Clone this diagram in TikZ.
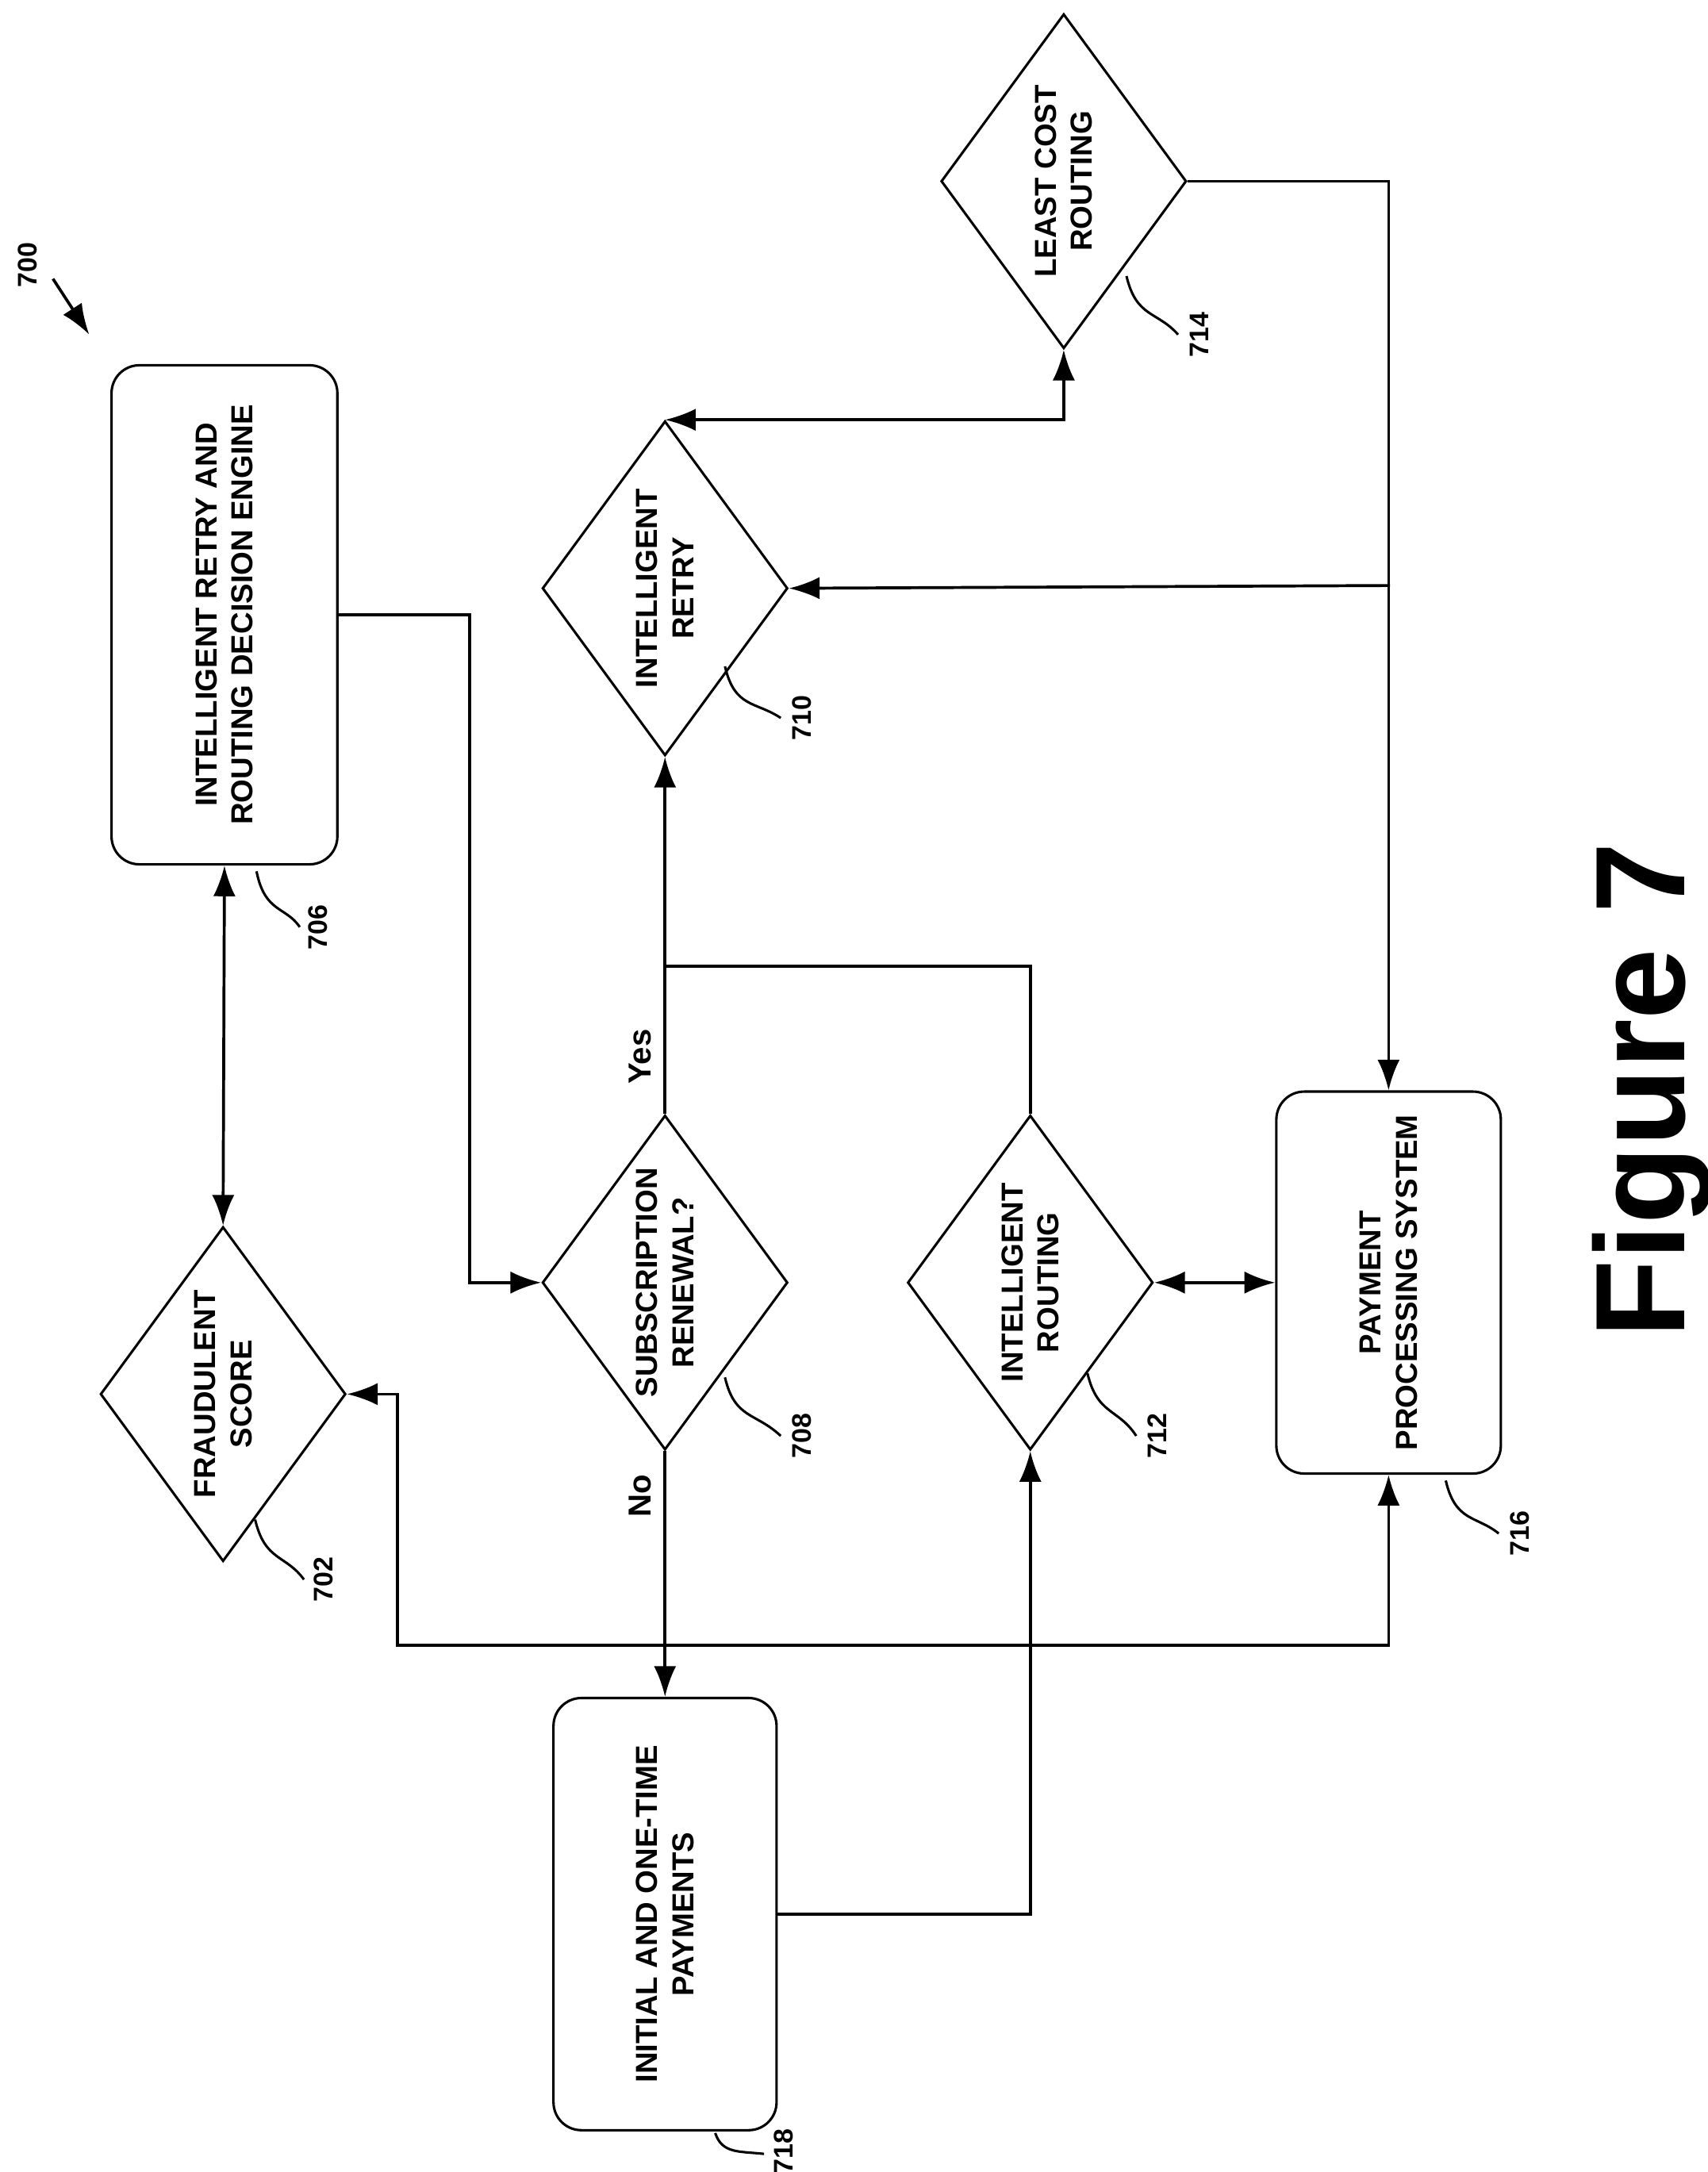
\documentclass[tikz,border=0pt]{standalone}
\usepackage{fontspec}
\setmainfont{Liberation Sans}
\usetikzlibrary{shapes.geometric,arrows.meta}
\tikzset{
  box/.style={draw,rounded corners=2mm,line width=0.5pt},
  dia/.style={draw,shape=diamond,inner sep=0pt,minimum width=17.6mm,minimum height=24mm,line width=0.5pt},
  txt/.style={rotate=90,align=center,font=\fontsize{6.2}{7.4}\selectfont\bfseries},
  num/.style={rotate=90,font=\fontsize{5.5}{6}\selectfont\bfseries},
  lbl/.style={rotate=90,font=\fontsize{6.5}{7}\selectfont\bfseries},
  link/.style={line width=0.6pt,-{Latex[length=2.2mm,width=1.6mm]}},
  both/.style={line width=0.6pt,{Latex[length=2.2mm,width=1.6mm]}-{Latex[length=2.2mm,width=1.6mm]}},
  lead/.style={line width=0.5pt}
}
\begin{document}
\begin{tikzpicture}[x=0.1mm,y=-0.1mm]
\useasboundingbox (0,0) rectangle (1225,1558);
% boxes
\node[box,minimum width=16.2mm,minimum height=35.8mm] (engine) at (161,441) {};
\node[txt] at (engine) {INTELLIGENT RETRY AND\\ROUTING DECISION ENGINE};
\node[box,minimum width=16.1mm,minimum height=27.4mm] (pps) at (996,920) {};
\node[txt] at (pps) {PAYMENT\\PROCESSING SYSTEM};
\node[box,minimum width=16mm,minimum height=31mm] (onetime) at (477,1373) {};
\node[txt] at (onetime) {INITIAL AND ONE-TIME\\PAYMENTS};
% decisions
\node[dia] (fraud) at (160,1000) {};
\node[txt] at (fraud) {FRAUDULENT\\SCORE};
\node[dia] (renew) at (477,920) {};
\node[txt] at (renew) {SUBSCRIPTION\\RENEWAL?};
\node[dia] (routing) at (739,920) {};
\node[txt] at (routing) {INTELLIGENT\\ROUTING};
\node[dia] (retry) at (477,422) {};
\node[txt] at (retry) {INTELLIGENT\\RETRY};
\node[dia] (lcr) at (763,130) {};
\node[txt] at (lcr) {LEAST COST\\ROUTING};
% connectors
\draw[both] (engine.south) -- (fraud.north);
\draw[link] (engine.east) -| (337,700) |- (renew.west);
\draw[link] (renew.south) -- (onetime.north);
\node[lbl] (no) at (459,1073) {No};
\draw[link] (renew.north) -- (retry.south);
\node[lbl] (yes) at (459,758) {Yes};
\coordinate (join) at (477,693);
\draw[line width=0.6pt] (routing.north) |- (join);
\draw[link] (onetime.east) -| (routing.south);
\draw[both] (routing.east) -- (pps.west);
\coordinate (bus) at (285,1180);
\draw[both] (fraud.east) -| (bus) -| (pps.south);
\coordinate (tap) at (997,420);
\draw[link] (lcr.east) -| (pps.north);
\draw[link] (tap) -- (retry.east);
\draw[both] (retry.north) -| (lcr.south);
% reference numerals
\node[num] (n700) at (20,190) {700};
\draw[link] (38,200) -- (64,240);
\node[num] at (228,665) {706};
\draw[lead] (184,625) .. controls (190,655) and (205,650) .. (215,665);
\node[num] at (232,1133) {702};
\draw[lead] (183,1090) .. controls (190,1120) and (205,1115) .. (218,1133);
\node[num] at (575,1030) {708};
\draw[lead] (520,988) .. controls (527,1018) and (542,1013) .. (560,1030);
\node[num] at (830,1030) {712};
\draw[lead] (780,985) .. controls (787,1015) and (802,1010) .. (815,1030);
\node[num] at (575,515) {710};
\draw[lead] (520,478) .. controls (527,508) and (542,503) .. (560,515);
\node[num] at (860,240) {714};
\draw[lead] (808,198) .. controls (815,228) and (830,223) .. (845,240);
\node[num] at (1090,1100) {716};
\draw[lead] (1037,1062) .. controls (1044,1092) and (1059,1087) .. (1075,1100);
\node[num] at (562,1543) {718};
\draw[lead] (513,1530) .. controls (518,1545) and (530,1543) .. (548,1545);
\node[rotate=90,font=\fontsize{26}{28}\selectfont\bfseries] (fig) at (1185,782) {Figure 7};
\end{tikzpicture}
\end{document}
